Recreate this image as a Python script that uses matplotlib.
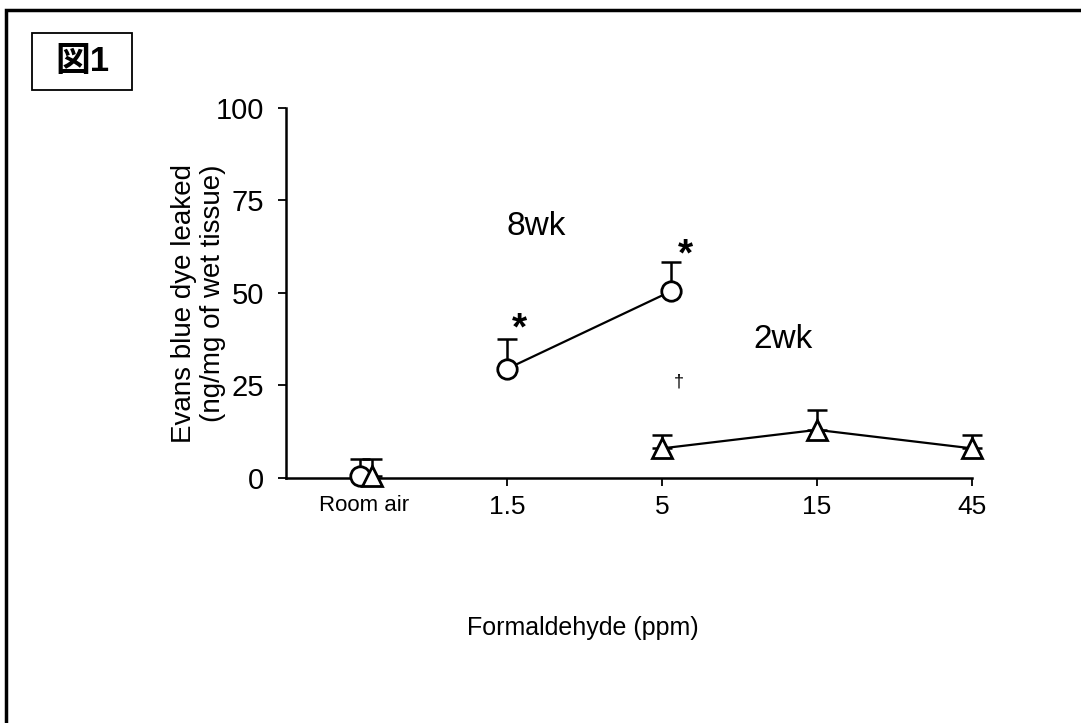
import matplotlib
matplotlib.use('Agg')
from matplotlib import pyplot as plt
from matplotlib.patches import Rectangle
import numpy as np

plt.rcParams['font.family'] = ['Liberation Sans', 'Noto Sans CJK JP', 'DejaVu Sans']

# categories on the x axis
doses = ['Room air', '1.5', '5', '15', '45']
dose_pos = [0.08, 1, 2, 3, 4]

# 8 week exposure (circles)
wk8_idx = [0, 1, 2]
wk8_shift = [0.05, 0.0, 0.06]
wk8_mean = [0.5, 29.5, 50.5]
wk8_err = [4.5, 8.0, 8.0]

# 2 week exposure (triangles)
wk2_idx = [0, 2, 3, 4]
wk2_shift = [0.13, 0.0, 0.0, 0.0]
wk2_mean = [0.5, 8.0, 13.0, 8.0]
wk2_err = [4.5, 3.5, 5.5, 3.5]

fig = plt.figure(figsize=(10.81, 7.23), dpi=100)
ax = fig.add_axes([0.2646, 0.3389, 0.6346, 0.5118])

x8 = np.array(wk8_idx) + np.array(wk8_shift)
x2 = np.array(wk2_idx) + np.array(wk2_shift)

ax.errorbar(x8, wk8_mean, yerr=[np.zeros(len(wk8_err)), wk8_err], fmt='none',
            ecolor='black', elinewidth=1.8, capsize=7, capthick=1.8, clip_on=False, zorder=2)
ax.errorbar(x2, wk2_mean, yerr=[np.zeros(len(wk2_err)), wk2_err], fmt='none',
            ecolor='black', elinewidth=1.8, capsize=7, capthick=1.8, clip_on=False, zorder=2)

# connecting lines (not to room air)
ax.plot(x8[1:], wk8_mean[1:], color='black', lw=1.6, zorder=3, clip_on=False)
ax.plot(x2[1:], wk2_mean[1:], color='black', lw=1.6, zorder=3, clip_on=False)

ax.plot(x8, wk8_mean, 'o', ms=14, mfc='white', mec='black', mew=2.0, zorder=4, clip_on=False)
ax.plot(x2, wk2_mean, '^', ms=15, mfc='white', mec='black', mew=2.0, zorder=4, clip_on=False)

ax.set_xlim(-0.426, 4.0)
ax.set_ylim(0, 100)

for s in ['top', 'right']:
    ax.spines[s].set_visible(False)
ax.spines['left'].set_linewidth(1.8)
ax.spines['bottom'].set_linewidth(1.8)
ax.spines['bottom'].set_zorder(1)

ax.set_yticks([0, 25, 50, 75, 100])
ax.tick_params(axis='y', direction='out', length=6, width=1.3, labelsize=21, pad=10)
ax.set_xticks(dose_pos)
ax.set_xticklabels(doses)
ax.tick_params(axis='x', direction='out', length=6, width=1.3, labelsize=19, pad=6)
ax.get_xticklabels()[0].set_fontsize(16)
ax.xaxis.get_major_ticks()[0].tick1line.set_visible(False)

# annotations
ax.text(1.19, 68, '8wk', fontsize=24, ha='center', va='center')
ax.text(2.78, 37.5, '2wk', fontsize=24, ha='center', va='center')
ax.text(1.08, 40, '*', fontsize=28, fontweight='bold', ha='center', va='center')
ax.text(2.15, 60, '*', fontsize=28, fontweight='bold', ha='center', va='center')
ax.text(2.11, 26, '\u2020', fontsize=13, ha='center', va='center')

fig.text(583 / 1081, 1 - 628 / 723, 'Formaldehyde (ppm)', fontsize=18, ha='center', va='center')
fig.text(184 / 1081, 1 - 303 / 723, 'Evans blue dye leaked', fontsize=20, rotation=90,
         ha='center', va='center')
fig.text(213 / 1081, 1 - 293 / 723, '(ng/mg of wet tissue)', fontsize=20, rotation=90,
         ha='center', va='center')

# outer frame and figure label box
fig.patches.append(Rectangle((6 / 1081, -0.05), 1.1, 1 - 10 / 723 + 0.05, transform=fig.transFigure,
                             fill=False, lw=2.5, ec='black'))
fig.patches.append(Rectangle((32 / 1081, 1 - 90 / 723), 100 / 1081, 57 / 723, transform=fig.transFigure,
                             fill=False, lw=1.3, ec='black'))
fig.text(82 / 1081, 1 - 62 / 723, '図1', fontsize=25, fontweight='bold', ha='center', va='center')

plt.savefig('out.png', dpi=100)
